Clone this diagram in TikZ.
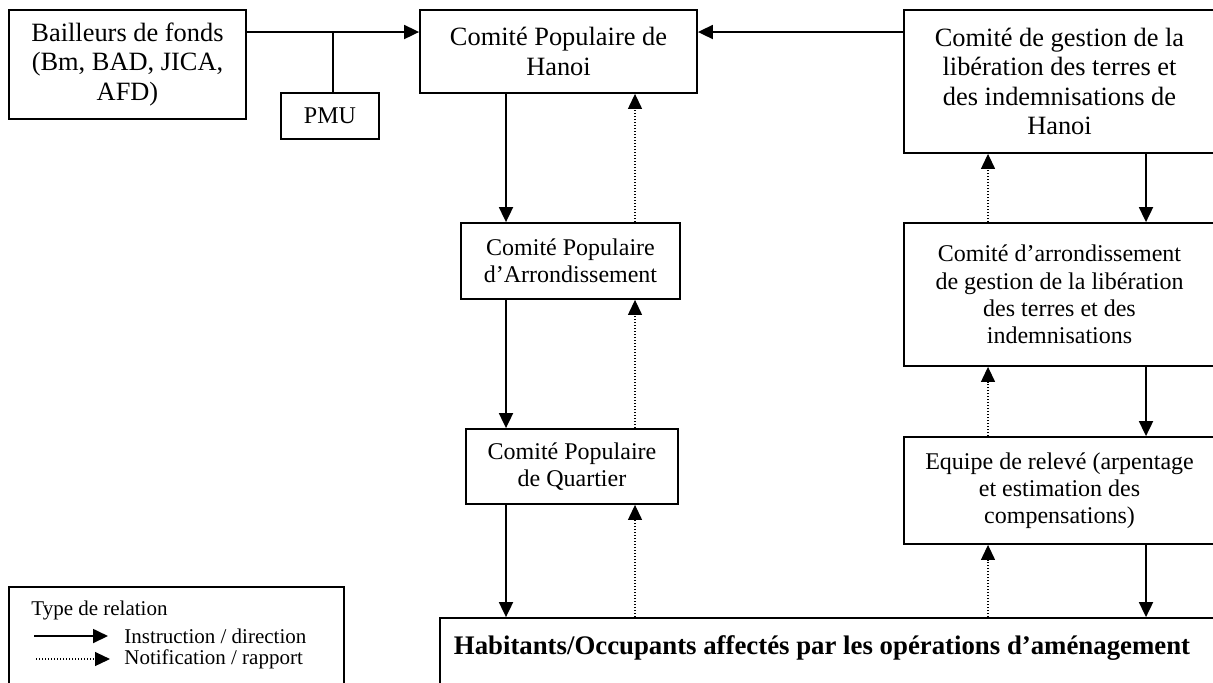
\documentclass[tikz,border=0pt]{standalone}
\usepackage{fontspec}
\setmainfont{Liberation Serif}
\usetikzlibrary{arrows.meta}
\begin{document}
\begin{tikzpicture}[x=0.5pt,y=-0.5pt,
  box/.style={draw,line width=0.9pt,inner sep=0pt,align=center},
  big/.style={font=\fontsize{13.2}{14.8}\selectfont},
  small/.style={font=\fontsize{12}{13.6}\selectfont},
  legtxt/.style={font=\fontsize{10.5}{12}\selectfont,inner sep=0pt,anchor=west},
  solidarr/.style={line width=0.9pt,-{Triangle[length=7.5pt,width=7pt]}},
  dotarr/.style={line width=0.6pt,dash pattern=on 0.6pt off 0.9pt,-{Triangle[length=7.5pt,width=7pt]}},
  plain/.style={line width=0.9pt}]
\useasboundingbox (0,0) rectangle (1213,682);
\clip (0,0) rectangle (1213,682);
% boxes
\node[box,big,minimum width=118.5pt,minimum height=54.5pt] (bail) at (127.5,64.5) {Bailleurs de fonds\\(Bm, BAD, JICA,\\AFD)};
\node[box,small,minimum width=49pt,minimum height=23pt] (pmu) at (330,116) {PMU};
\node[box,big,minimum width=138.5pt,minimum height=41.5pt] (hanoi) at (558.5,51.5) {Comité Populaire de\\Hanoi};
\node[box,big,minimum width=155.5pt,minimum height=71.5pt] (gest) at (1059.5,81.5) {Comité de gestion de la\\libération des terres et\\des indemnisations de\\Hanoi};
\node[box,small,minimum width=109.5pt,minimum height=38pt] (arrond) at (570.5,261) {Comité Populaire\\d’Arrondissement};
\node[box,small,minimum width=106pt,minimum height=37.5pt] (quart) at (572,466.5) {Comité Populaire\\de Quartier};
\node[box,small,minimum width=155.5pt,minimum height=71.5pt] (argest) at (1059.5,294.5) {Comité d’arrondissement\\de gestion de la libération\\des terres et des\\indemnisations};
\node[box,small,minimum width=155.5pt,minimum height=53.5pt] (equipe) at (1059.5,490.5) {Equipe de relevé (arpentage\\et estimation des\\compensations)};
\node[box,minimum width=390pt,minimum height=51pt] (hab) at (830,669) {};
\node[inner sep=0pt,font=\fontsize{13.4}{15}\selectfont\bfseries] (habtxt) at (822,648) {Habitants/Occupants affectés par les opérations d’aménagement};
% legend
\node[box,minimum width=167.5pt,minimum height=66.5pt] (leg) at (176.5,653.5) {};
\node[legtxt] (legt) at (31,610) {Type de relation};
\node[legtxt] (legi) at (124,636) {Instruction / direction};
\node[legtxt] (legn) at (124,659) {Notification / rapport};
\coordinate (ls1) at (34,636);
\coordinate (le1) at (108,636);
\coordinate (ls2) at (36,659);
\coordinate (le2) at (110,659);
\draw[solidarr] (ls1) -- (le1);
\draw[dotarr] (ls2) -- (le2);
% helper coordinates
\coordinate (jn) at (333,32);
\coordinate (xL) at (506,0);
\coordinate (xLd) at (635,0);
\coordinate (xR) at (1146,0);
\coordinate (xRd) at (988,0);
% top connectors
\draw[solidarr] (bail.east |- jn) -- (hanoi.west |- jn);
\draw[plain] (jn) -- (jn |- pmu.north);
\draw[solidarr] (gest.west |- jn) -- (hanoi.east |- jn);
% left column
\draw[solidarr] (hanoi.south -| xL) -- (arrond.north -| xL);
\draw[dotarr] (arrond.north -| xLd) -- (hanoi.south -| xLd);
\draw[solidarr] (arrond.south -| xL) -- (quart.north -| xL);
\draw[dotarr] (quart.north -| xLd) -- (arrond.south -| xLd);
\draw[solidarr] (quart.south -| xL) -- (hab.north -| xL);
\draw[dotarr] (hab.north -| xLd) -- (quart.south -| xLd);
% right column
\draw[solidarr] (gest.south -| xR) -- (argest.north -| xR);
\draw[dotarr] (argest.north -| xRd) -- (gest.south -| xRd);
\draw[solidarr] (argest.south -| xR) -- (equipe.north -| xR);
\draw[dotarr] (equipe.north -| xRd) -- (argest.south -| xRd);
\draw[solidarr] (equipe.south -| xR) -- (hab.north -| xR);
\draw[dotarr] (hab.north -| xRd) -- (equipe.south -| xRd);
\end{tikzpicture}
\end{document}
